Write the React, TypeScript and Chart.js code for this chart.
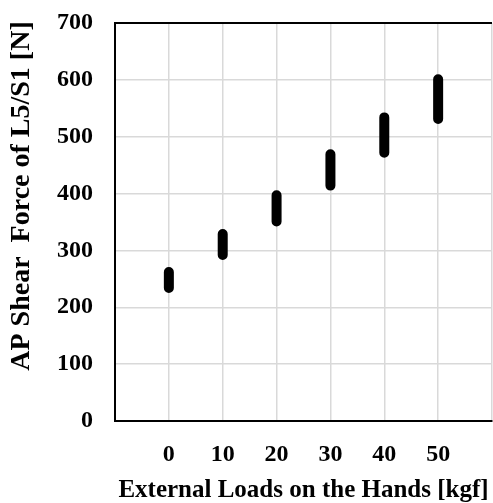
import React, { useEffect, useRef } from "react";
import { Chart, registerables } from "chart.js";

Chart.register(...registerables);

const loads = [0, 10, 20, 30, 40, 50];
const shearMin = [234, 292, 351, 414, 472, 531];
const shearMax = [262, 329, 397, 469, 534, 601];
const xTitle = "External Loads on the Hands [kgf]";
const yTitle = "AP Shear  Force of L5/S1 [N]";

const FONT = "'Liberation Serif', 'Times New Roman', serif";

const decorations = {
  id: "decorations",
  afterDraw(chart: any) {
    const { ctx, chartArea } = chart;
    ctx.save();
    ctx.strokeStyle = "#000";
    ctx.lineWidth = 2;
    ctx.beginPath();
    ctx.moveTo(chartArea.left - 1, chartArea.top);
    ctx.lineTo(chartArea.right, chartArea.top);
    ctx.stroke();
    // y axis title
    ctx.translate(22, 196);
    ctx.rotate(-Math.PI / 2);
    ctx.fillStyle = "#000";
    ctx.font = `bold 28px ${FONT}`;
    ctx.textAlign = "center";
    ctx.textBaseline = "middle";
    ctx.fillText(yTitle, 0, 0);
    ctx.restore();
  },
};

export default function App() {
  const ref = useRef<HTMLCanvasElement>(null);
  useEffect(() => {
    const pts: any[] = [];
    loads.forEach((x, i) => {
      pts.push({ x, y: shearMin[i] });
      pts.push({ x, y: shearMax[i] });
      pts.push({ x, y: null });
    });
    const chart = new Chart(ref.current!, {
      type: "line",
      data: {
        datasets: [
          {
            data: pts,
            borderColor: "#000",
            borderWidth: 10,
            borderCapStyle: "round",
            pointRadius: 0,
            spanGaps: false,
            fill: false,
          },
        ],
      },
      options: {
        responsive: false,
        animation: false,
        layout: { padding: { top: 23, right: 1, left: 0, bottom: 0 } },
        plugins: { legend: { display: false }, tooltip: { enabled: false } },
        scales: {
          x: {
            type: "linear",
            min: -10,
            max: 60,
            ticks: {
              stepSize: 10,
              color: "#000",
              padding: 19,
              maxRotation: 0,
              font: { family: FONT, size: 24, weight: "bold" },
              callback: (v: any) => (v < 0 || v > 50 ? "" : String(v)),
            },
            grid: { color: "#d9d9d9", lineWidth: 1.5, drawTicks: false },
            border: { color: "#000", width: 2 },
            title: {
              display: true,
              text: xTitle,
              color: "#000",
              padding: { top: 0, bottom: -3 },
              font: { family: FONT, size: 25, weight: "bold" },
            },
            afterFit: (s: any) => {
              s.height = 82;
              s.paddingLeft = 0;
              s.paddingRight = 0;
            },
          },
          y: {
            min: 0,
            max: 700,
            ticks: {
              stepSize: 100,
              color: "#000",
              padding: 22,
              font: { family: FONT, size: 24, weight: "bold" },
            },
            grid: { color: "#d9d9d9", lineWidth: 1.5, drawTicks: false },
            border: { color: "#000", width: 2 },
            afterFit: (s: any) => {
              s.width = 115;
              s.paddingTop = 0;
              s.paddingBottom = 0;
            },
          },
        },
      },
      plugins: [decorations],
    });
    return () => chart.destroy();
  }, []);
  return (
    <div style={{ position: "absolute", left: 0, top: 0, width: 493, height: 503, background: "#fff" }}>
      <canvas ref={ref} width={493} height={503} />
    </div>
  );
}
